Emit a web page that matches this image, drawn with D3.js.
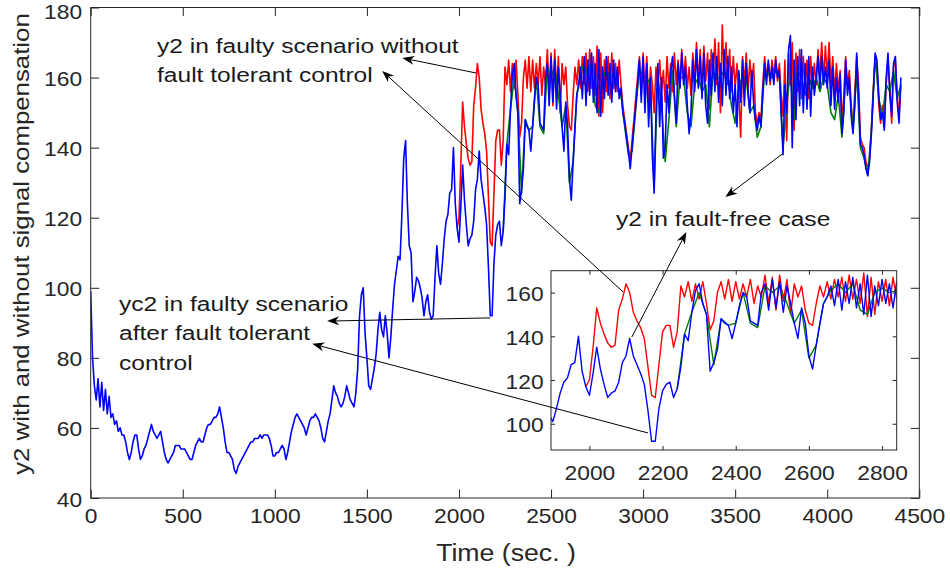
<!DOCTYPE html>
<html>
<head>
<meta charset="utf-8">
<script src="https://cdn.jsdelivr.net/npm/d3@7"></script>
<style>
  body { margin: 0; background: #fff; }
</style>
</head>
<body>
<svg id="chart" width="950" height="574"></svg>
<script>
// ticks
const xTicks = [0, 500, 1000, 1500, 2000, 2500, 3000, 3500, 4000, 4500]
const yTicks = [40, 60, 80, 100, 120, 140, 160, 180]
const insetXTicks = [2000, 2200, 2400, 2600, 2800]
const insetYTicks = [100, 120, 140, 160]

// yc2, faulty scenario after fault tolerant control (blue), t = 0..4400 step 10
const blue = [
  99,80,72,68,74,66,73,65,71,64,
  69,63,64,61,62,59,60,58,58,56,
  53,51,53,56,58,58,54,51,52,54,
  55,57,59,61,59,58,57,58,59,56,
  53,51,50,51,52,53,55,55,55,54,
  54,54,53,52,51,51,53,55,56,57,
  56,56,58,60,61,61,62,63,63,64,
  66,63,60,56,53,53,52,51,48,47,
  49,50,51,52,53,54,55,56,56,57,
  57,57,58,57,58,58,58,57,55,52,
  52,53,53,54,55,54,51,53,56,59,
  61,63,64,63,62,61,60,58,60,62,
  63,63,64,63,62,60,57,56,59,62,
  64,68,72,70,69,67,66,67,69,72,
  70,68,67,66,70,77,92,98,100,87,
  80,72,71,74,77,81,88,93,88,86,
  92,87,80,86,94,101,105,109,108,121,
  137,142,124,112,110,96,99,103,102,100,
  97,92,96,98,93,91,92,103,112,104,
  101,107,114,119,121,127,128,140,124,117,
  113,123,135,125,118,112,114,115,119,128,
  131,139,131,127,123,118,106,92,92,107,
  115,118,119,112,116,126,141,138,151,161,
  164,155,150,124,128,134,148,146,145,139,
  146,154,160,158,147,146,145,160,164,152,
  166,153,165,151,163,155,146,139,153,146,
  131,125,136,146,155,158,163,154,166,152,
  165,155,167,153,164,150,168,149,163,154,
  166,155,164,153,165,156,163,154,157,150,
  147,143,139,134,140,146,152,158,165,153,
  166,150,164,146,160,138,127,150,164,146,
  160,137,140,158,150,162,166,155,147,164,
  157,167,158,163,152,144,150,165,156,168,
  157,166,154,167,152,147,165,155,167,156,
  166,153,164,152,168,155,166,154,163,150,
  158,146,162,153,165,152,164,156,150,162,
  153,148,145,149,146,156,164,158,165,159,
  163,158,165,160,162,150,138,158,150,168,
  172,140,165,148,166,152,168,150,164,151,
  166,149,163,155,160,166,157,166,158,163,
  157,165,152,163,151,160,153,161,144,150,
  165,155,160,149,144,152,167,155,141,140,
  138,134,132,136,144,155,167,165,155,148,
  150,145,160,167,155,149,164,166,153,147,
  160
]

// y2, faulty scenario without fault tolerant control (red), t = 1990..4400 step 10
const red = [
  117,
  120,135,153,146,141,137,135,136,152,157,
  164,160,151,147,144,139,126,113,112,127,
  142,145,145,135,142,163,158,165,156,164,
  157,165,155,143,147,160,165,157,166,156,
  165,157,164,158,166,155,163,158,168,155,
  167,152,168,156,166,150,164,158,163,152,
  146,145,155,163,158,165,157,166,158,167,
  156,168,157,166,155,169,149,167,150,165,
  156,166,154,167,157,164,156,165,158,152,
  148,144,140,136,142,148,154,160,166,155,
  167,156,166,152,163,158,150,163,157,165,
  156,162,153,166,157,164,156,167,158,165,
  157,168,159,166,157,163,155,167,159,170,
  158,168,156,169,159,167,151,168,160,171,
  158,170,150,175,160,170,158,168,156,166,
  157,164,155,143,166,158,167,156,165,158,
  164,150,147,150,148,158,166,160,164,158,
  165,160,166,159,164,155,149,165,142,167,
  158,170,145,167,156,168,154,166,157,165,
  154,166,157,164,158,168,160,170,159,169,
  160,170,158,166,155,164,156,162,147,155,
  166,158,162,152,146,156,166,158,143,141,
  140,136,134,137,146,157,165,163,152,147,
  152,146,158,165,157,147,163,165,155,149,
  158
]

// y2, fault-free case (green), t = 2240..4400 step 20
const green = [
  116,141,151,160,150,127,148,145,146,160,
  146,144,163,160,163,155,146,152,130,136,
  155,161,164,160,164,152,150,160,162,160,
  161,158,155,146,138,139,151,163,160,160,
  158,129,160,152,136,148,162,146,160,160,
  150,146,158,160,156,158,146,162,160,160,
  162,160,152,147,158,160,160,150,152,143,
  146,162,161,160,162,160,140,152,162,148,
  162,160,155,160,157,160,156,160,158,150,
  148,155,143,160,158,145,162,140,137,132,
  145,166,154,149,158,156,162,154,158
]

const FONT = '"Liberation Sans", Arial, Helvetica, sans-serif'
const SX = 1.14   // the reference text is a bit wide
const AXC = "#262626"

const svg = d3.select("#chart")

const x = d3.scaleLinear().domain([0, 4500]).range([90.7, 919.3])
const y = d3.scaleLinear().domain([40, 180]).range([498, 7.5])
const xi = d3.scaleLinear().domain([1895, 2840]).range([551, 896.7])
const yi = d3.scaleLinear().domain([88, 170]).range([450, 270.7])

function series(vals, t0, step) {
    return vals.map((v, i) => [t0 + i * step, v])
}
const lines = [
    {data: series(red, 1990, 10), color: "#ff0000"},
    {data: series(green, 2240, 20), color: "#008000"},
    {data: series(blue, 0, 10), color: "#0000ff"}
]

const defs = svg.append("defs")
defs.append("clipPath").attr("id", "clipMain").append("rect")
    .attr("x", x(0)).attr("y", y(180)).attr("width", x(4500) - x(0)).attr("height", y(40) - y(180))
defs.append("clipPath").attr("id", "clipInset").append("rect")
    .attr("x", xi(1895)).attr("y", yi(170)).attr("width", xi(2840) - xi(1895)).attr("height", yi(88) - yi(170))

function drawLines(g, xs, ys, sw) {
    const line = d3.line().x(d => xs(d[0])).y(d => ys(d[1]))
    lines.forEach(s => {
        g.append("path").attr("d", line(s.data))
            .attr("fill", "none").attr("stroke", s.color)
            .attr("stroke-width", sw).attr("stroke-linejoin", "round")
    })
}

function styleAxis(g, size) {
    g.select(".domain").remove()
    g.selectAll(".tick line").attr("stroke", AXC)
    g.selectAll(".tick text").attr("fill", AXC).attr("font-size", size)
        .attr("font-family", FONT).attr("transform", `scale(${SX},1)`)
}

function box(g, xs, ys, ticksX, ticksY, len, padB, padL) {
    const [x0, x1] = xs.range(), [y0, y1] = ys.range()
    const top = ys.domain()[1]
    g.append("g").attr("transform", `translate(0,${y0})`)
        .call(d3.axisBottom(xs).tickValues(ticksX).tickFormat(d3.format("d")).tickSize(-len).tickPadding(padB))
        .call(a => styleAxis(a, 20))
    g.append("g").attr("transform", `translate(0,${y1})`)
        .call(d3.axisTop(xs).tickValues(ticksX).tickFormat("").tickSize(-len))
        .call(a => styleAxis(a, 20))
    g.append("g").attr("transform", `translate(${x0},0)`)
        .call(d3.axisLeft(ys).tickValues(ticksY).tickFormat(d3.format("d")).tickSize(-len).tickPadding(padL))
        .call(a => styleAxis(a, 20))
        .call(a => a.selectAll(".tick text").attr("dy", d => d === top ? "0.55em" : "0.4em"))
    g.append("g").attr("transform", `translate(${x1},0)`)
        .call(d3.axisRight(ys).tickValues(ticksY).tickFormat("").tickSize(-len))
        .call(a => styleAxis(a, 20))
    g.append("rect").attr("x", x0).attr("y", y1).attr("width", x1 - x0).attr("height", y0 - y1)
        .attr("fill", "none").attr("stroke", AXC).attr("stroke-width", 1)
}

// main plot
drawLines(svg.append("g").attr("clip-path", "url(#clipMain)"), x, y, 1.6)
box(svg.append("g"), x, y, xTicks, yTicks, 8.5, 10.5, 7.5)

svg.append("text").attr("transform", `translate(506,561) scale(1.16,1)`)
    .attr("text-anchor", "middle").attr("font-family", FONT).attr("font-size", 23)
    .attr("fill", AXC).text("Time (sec. )")
svg.append("text").attr("transform", `translate(29,244) rotate(-90) scale(1.2,1)`)
    .attr("text-anchor", "middle").attr("font-family", FONT).attr("font-size", 21.5)
    .attr("fill", AXC).text("y2 with and without signal compensation")

// annotation texts
const notes = [
    {x: 157, y: 53, lines: ["y2 in faulty scenario without", "fault tolerant control"]},
    {x: 616, y: 226, lines: ["y2 in fault-free case"]},
    {x: 119, y: 311, lines: ["yc2 in faulty scenario", "after fault tolerant", "control"]}
]
notes.forEach(n => {
    const t = svg.append("text").attr("transform", `translate(${n.x},${n.y}) scale(1.17,1)`)
        .attr("font-family", FONT).attr("font-size", 21).attr("fill", "#1a1a1a")
    n.lines.forEach((s, i) => t.append("tspan").attr("x", 0).attr("y", i * 29.5).text(s))
})

// inset zoom
const inset = svg.append("g")
inset.append("rect").attr("x", xi(1895)).attr("y", yi(170))
    .attr("width", xi(2840) - xi(1895)).attr("height", yi(88) - yi(170)).attr("fill", "#fff")
drawLines(inset.append("g").attr("clip-path", "url(#clipInset)"), xi, yi, 1.4)
box(inset, xi, yi, insetXTicks, insetYTicks, 4, 15.5, 6.5)

// arrows: start point (main or inset axes), tip in main axes
const arrows = [
    {from: [2094, 161.3], ax: "main", to: [1692, 165.6]},
    {from: [2092, 160.3], ax: "inset", to: [1583, 161.9]},
    {from: [3756, 138.2], ax: "main", to: [3447, 125.9]},
    {from: [2116, 139.7], ax: "inset", to: [3235, 115.9]},
    {from: [2170, 91.4], ax: "main", to: [1284, 90.5]},
    {from: [2160, 95.8], ax: "inset", to: [1203, 84]}
]
const ga = svg.append("g")
arrows.forEach(a => {
    const x1 = a.ax === "inset" ? xi(a.from[0]) : x(a.from[0])
    const y1 = a.ax === "inset" ? yi(a.from[1]) : y(a.from[1])
    const x2 = x(a.to[0]), y2 = y(a.to[1])
    const len = Math.hypot(x2 - x1, y2 - y1)
    const ux = (x2 - x1) / len, uy = (y2 - y1) / len
    const L = 12, w = 4.5
    ga.append("line").attr("x1", x1).attr("y1", y1).attr("x2", x2 - ux * 6).attr("y2", y2 - uy * 6)
        .attr("stroke", "#000").attr("stroke-width", 1)
    const pts = [
        [x2, y2],
        [x2 - ux * L - uy * w, y2 - uy * L + ux * w],
        [x2 - ux * L * 0.7, y2 - uy * L * 0.7],
        [x2 - ux * L + uy * w, y2 - uy * L - ux * w]
    ]
    ga.append("path").attr("d", "M" + pts.map(p => p.join(",")).join("L") + "Z").attr("fill", "#000")
})
</script>
</body>
</html>
